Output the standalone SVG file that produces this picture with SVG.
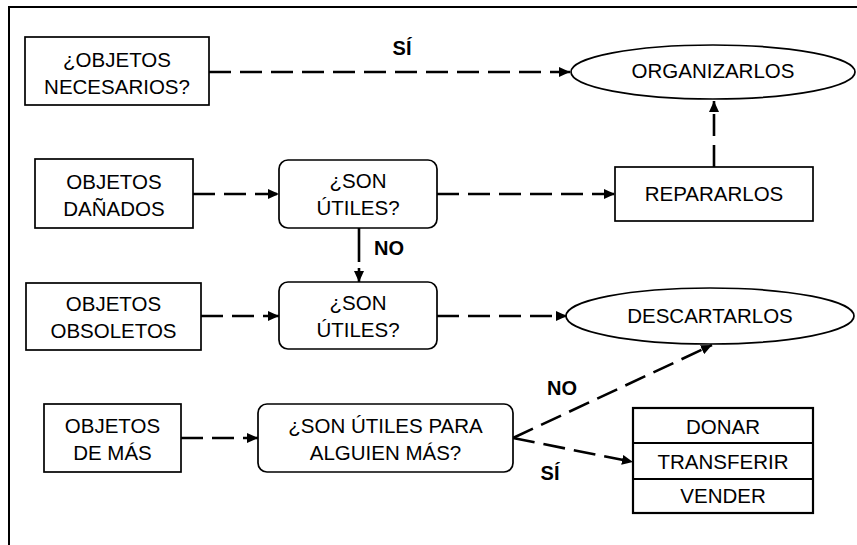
<svg xmlns="http://www.w3.org/2000/svg" width="857" height="545" viewBox="0 0 857 545">
  <style>
    .box { fill: #fff; stroke: #000; stroke-width: 1.7; }
    .stack { fill: #fff; stroke: #000; stroke-width: 2.2; }
    .t { font-family: "Liberation Sans", Arial, sans-serif; font-size: 20.5px; fill: #000; text-anchor: middle; }
    .lbl { font-family: "Liberation Sans", Arial, sans-serif; font-size: 20px; font-weight: bold; fill: #000; text-anchor: middle; }
    .dash { fill: none; stroke: #000; stroke-width: 2.6; stroke-dasharray: 22 9; marker-end: url(#arrow); }
    .solid { fill: none; stroke: #000; stroke-width: 2.6; marker-end: url(#arrow); }
  </style>
  <defs>
    <marker id="arrow" markerUnits="userSpaceOnUse" markerWidth="12" markerHeight="10" refX="11" refY="5" orient="auto">
      <path d="M0,0 L11,5 L0,10 z" fill="#000"/>
    </marker>
  </defs>

  <!-- page frame -->
  <path d="M9,545 V7 H857" fill="none" stroke="#000" stroke-width="2"/>

  <g id="connectors">
    <path class="dash" d="M209,72 H570"/>
    <path class="dash" d="M714,167 V101"/>
    <path class="dash" d="M193,194 H279"/>
    <path class="dash" d="M437,194 H615"/>
    <path class="solid" d="M359,228 V282" stroke-dasharray="34 6"/>
    <path class="dash" d="M201,316 H279"/>
    <path class="dash" d="M437,316 H567"/>
    <path class="dash" d="M181,438 H258"/>
    <path class="dash" d="M513,438 L712,345"/>
    <path class="dash" d="M513,438 L633,462"/>
  </g>

  <g id="labels">
    <text class="lbl" x="402" y="55">SÍ</text>
    <text class="lbl" x="389" y="255">NO</text>
    <text class="lbl" x="562" y="395">NO</text>
    <text class="lbl" x="550" y="480">SÍ</text>
  </g>

  <g id="necesarios">
    <rect class="box" x="25" y="37" width="184" height="68"/>
    <text class="t" x="117" y="67">¿OBJETOS</text>
    <text class="t" x="117" y="94">NECESARIOS?</text>
  </g>

  <g id="organizarlos">
    <ellipse class="box" cx="713" cy="72" rx="142" ry="27"/>
    <text class="t" x="713" y="78">ORGANIZARLOS</text>
  </g>

  <g id="danados">
    <rect class="box" x="35" y="159" width="158" height="69"/>
    <text class="t" x="114" y="189">OBJETOS</text>
    <text class="t" x="114" y="216">DAÑADOS</text>
  </g>

  <g id="utiles1">
    <rect class="box" x="279" y="160" width="158" height="68" rx="9"/>
    <text class="t" x="358" y="188">¿SON</text>
    <text class="t" x="358" y="215">ÚTILES?</text>
  </g>

  <g id="repararlos">
    <rect class="box" x="615" y="167" width="198" height="54"/>
    <text class="t" x="714" y="201">REPARARLOS</text>
  </g>

  <g id="obsoletos">
    <rect class="box" x="26" y="283" width="175" height="67"/>
    <text class="t" x="113.5" y="311">OBJETOS</text>
    <text class="t" x="113.5" y="338">OBSOLETOS</text>
  </g>

  <g id="utiles2">
    <rect class="box" x="279" y="282" width="158" height="67" rx="9"/>
    <text class="t" x="358" y="310">¿SON</text>
    <text class="t" x="358" y="337">ÚTILES?</text>
  </g>

  <g id="descartarlos">
    <ellipse class="box" cx="710" cy="316" rx="144" ry="28"/>
    <text class="t" x="710" y="323">DESCARTARLOS</text>
  </g>

  <g id="de-mas">
    <rect class="box" x="44" y="404" width="137" height="68"/>
    <text class="t" x="112.5" y="433">OBJETOS</text>
    <text class="t" x="112.5" y="460">DE MÁS</text>
  </g>

  <g id="alguien-mas">
    <rect class="box" x="258" y="404" width="255" height="68" rx="9"/>
    <text class="t" x="385.5" y="433">¿SON ÚTILES PARA</text>
    <text class="t" x="385.5" y="460">ALGUIEN MÁS?</text>
  </g>

  <g id="opciones">
    <rect class="stack" x="633" y="408" width="180" height="105"/>
    <line x1="633" y1="443" x2="813" y2="443" stroke="#000" stroke-width="2.2"/>
    <line x1="633" y1="479" x2="813" y2="479" stroke="#000" stroke-width="2.2"/>
    <text class="t" x="723" y="434">DONAR</text>
    <text class="t" x="723" y="469">TRANSFERIR</text>
    <text class="t" x="723" y="503">VENDER</text>
  </g>
</svg>
